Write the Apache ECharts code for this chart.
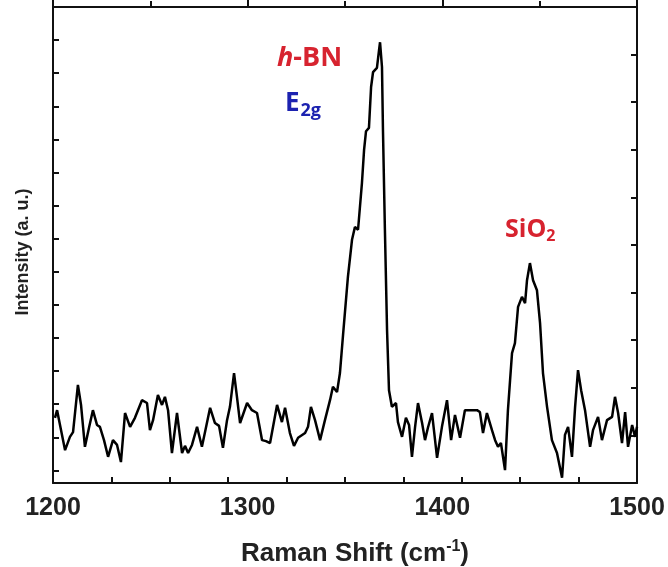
<!DOCTYPE html>
<html>
<head>
<meta charset="utf-8">
<script src="https://cdn.jsdelivr.net/npm/echarts@6/dist/echarts.min.js"></script>
<style>html,body{margin:0;padding:0;background:#fff}#c{width:668px;height:567px}</style>
</head>
<body>
<div id="c"></div>
<script>
const ramanShift = [1201.0,1202.1,1203.6,1206.2,1208.7,1210.3,1212.8,1214.4,1216.4,1218.5,1220.5,1222.6,1224.1,1226.2,1228.3,1230.8,1232.9,1234.9,1237.0,1239.6,1242.1,1245.7,1248.3,1249.8,1251.4,1253.9,1256.0,1257.5,1259.1,1261.1,1263.7,1266.3,1267.8,1269.4,1271.4,1274.0,1276.5,1278.1,1280.7,1283.2,1285.3,1287.3,1289.4,1290.9,1293.0,1294.5,1296.1,1299.7,1302.2,1304.8,1307.4,1309.4,1311.5,1315.1,1317.6,1319.2,1321.7,1323.8,1325.9,1329.5,1331.0,1332.5,1334.6,1337.2,1339.7,1342.3,1343.8,1345.9,1347.4,1349.0,1351.5,1353.6,1355.1,1356.7,1358.7,1359.8,1360.8,1362.3,1363.4,1364.4,1366.4,1367.5,1368.0,1369.0,1369.5,1370.5,1371.6,1372.6,1374.1,1376.2,1377.2,1379.3,1381.3,1382.9,1384.4,1386.0,1387.5,1389.6,1391.1,1392.6,1394.7,1397.3,1399.8,1402.4,1404.5,1406.5,1409.1,1411.6,1414.2,1417.8,1419.3,1420.9,1422.9,1425.5,1427.1,1428.6,1430.1,1432.2,1433.7,1434.8,1435.8,1437.3,1438.9,1440.9,1442.5,1443.5,1445.0,1446.6,1448.6,1450.2,1451.7,1453.8,1456.3,1458.9,1461.5,1463.0,1464.6,1466.6,1468.2,1469.7,1471.3,1473.3,1475.9,1477.4,1480.0,1482.0,1484.6,1487.2,1488.7,1490.3,1492.3,1493.9,1495.4,1497.5,1499.0,1500.0];
const intensity = [1.37,1.53,1.22,0.69,0.97,1.07,2.06,1.64,0.76,1.16,1.53,1.22,1.18,0.90,0.55,0.90,0.80,0.44,1.47,1.18,1.37,1.74,1.68,1.11,1.32,1.85,1.64,1.81,1.53,0.63,1.47,0.63,0.78,0.63,0.80,1.18,0.76,1.07,1.58,1.26,1.20,0.74,1.32,1.60,2.31,1.81,1.26,1.68,1.53,1.47,0.90,0.88,0.84,1.64,1.28,1.58,1.05,0.78,0.95,1.05,1.18,1.60,1.32,0.90,1.32,1.74,2.02,1.91,2.31,3.11,4.33,5.11,5.38,5.32,6.30,7.00,7.39,7.46,8.32,8.63,8.72,9.10,9.26,8.74,7.42,5.32,3.21,1.95,1.60,1.68,1.28,0.97,1.37,1.22,0.55,1.18,1.68,1.26,0.90,1.16,1.47,0.53,1.18,1.74,0.90,1.43,0.95,1.53,1.53,1.53,1.49,1.05,1.47,1.11,0.90,0.76,0.84,0.27,1.53,2.16,2.73,2.94,3.70,3.91,3.78,4.26,4.62,4.26,4.05,3.36,2.31,1.60,0.90,0.63,0.11,1.01,1.18,0.55,1.60,2.37,1.95,1.53,0.76,1.11,1.39,0.90,1.32,1.39,1.81,1.47,0.84,1.49,0.76,1.22,0.97,1.18];
const xTickLabels = ['1200','1300','1400','1500'];
const xTitle = 'Raman Shift (cm';
const yTitle = 'Intensity (a. u.)';

const chart = echarts.init(document.getElementById('c'), null, {renderer: 'canvas'});
const black = '#111';
const lineW = 2;
const F = 'Liberation Sans';
chart.setOption({
  backgroundColor: '#fff',
  animation: false,
  grid: {left: 53, right: 31, top: 7, bottom: 84, containLabel: false, outerBoundsMode: 'none'},
  xAxis: [{
    type: 'value', min: 1200, max: 1500, interval: 100, position: 'bottom',
    axisLine: {show: true, lineStyle: {color: black, width: lineW}},
    axisTick: {show: true, inside: true, length: 7, lineStyle: {color: black, width: 2}},
    minorTick: {show: true, splitNumber: 2, length: 6, lineStyle: {color: black, width: 2}},
    splitLine: {show: false},
    axisLabel: {fontFamily: F, fontWeight: 'bold', fontSize: 25, color: '#222', margin: 13,
      formatter: v => xTickLabels[Math.round((v - 1200) / 100)] || ''},
    name: xTitle + '{sup|-1}{p|)}', nameLocation: 'middle', nameGap: 56,
    nameTextStyle: {fontFamily: F, fontWeight: 'bold', fontSize: 26, color: '#222', padding: [0,0,0,20],
      rich: {sup: {fontFamily: F, fontWeight: 'bold', fontSize: 16, color: '#222', padding: [0,0,14,0]},
             p: {fontFamily: F, fontWeight: 'bold', fontSize: 26, color: '#222'}}}
  }, {
    type: 'value', min: 1200, max: 1500, interval: 30, position: 'top',
    axisLine: {show: true, lineStyle: {color: black, width: lineW}},
    axisTick: {show: true, inside: true, length: -6, lineStyle: {color: black, width: 2}},
    minorTick: {show: false},
    axisLabel: {show: false}, splitLine: {show: false}
  }],
  yAxis: [{
    type: 'value', min: 0, max: 14.38, interval: 1, inverse: true, position: 'left',
    axisLine: {show: true, lineStyle: {color: black, width: lineW}},
    axisTick: {show: true, inside: true, length: 6, lineStyle: {color: black, width: 2}},
    axisLabel: {show: false}, splitLine: {show: false}
  }, {
    type: 'value', min: 0, max: 10, interval: 1, position: 'right',
    axisLine: {show: true, lineStyle: {color: black, width: lineW}},
    axisTick: {show: true, inside: true, length: 6, lineStyle: {color: black, width: 2}},
    axisLabel: {show: false}, splitLine: {show: false}
  }],
  series: [{
    type: 'line', xAxisIndex: 0, yAxisIndex: 1, showSymbol: false, symbol: 'none',
    lineStyle: {color: '#000', width: 2.5}, z: 3,
    data: ramanShift.map((x, i) => [x, intensity[i]])
  }],
  graphic: [
    {type: 'text', x: 23, y: 252, rotation: Math.PI / 2, style: {text: yTitle, fontFamily: F, fontWeight: 'bold',
      fontSize: 18, fill: '#222', align: 'center', verticalAlign: 'middle'}},
    {type: 'text', left: 277, top: 45, style: {text: '{i|h}{b|-BN}',
      rich: {i: {fontFamily: 'Open Sans', fontStyle: 'italic', fontWeight: 'bold', fontSize: 27, fill: '#d7232f'},
             b: {fontFamily: 'Open Sans', fontWeight: 'bold', fontSize: 27, fill: '#d7232f'}}}},
    {type: 'text', left: 285, top: 91, style: {text: '{b|E}{s|2g}',
      rich: {b: {fontFamily: 'Open Sans', fontWeight: 'bold', fontSize: 26, fill: '#1c22b0'},
             s: {fontFamily: 'Open Sans', fontWeight: 'bold', fontSize: 18, fill: '#1c22b0', padding: [14,0,0,1]}}}},
    {type: 'text', left: 505, top: 217, style: {text: '{b|SiO}{s|2}',
      rich: {b: {fontFamily: 'Open Sans', fontWeight: 'bold', fontSize: 25, fill: '#d7232f'},
             s: {fontFamily: 'Open Sans', fontWeight: 'bold', fontSize: 16, fill: '#d7232f', padding: [14,0,0,0]}}}}
  ]
});
</script>
</body>
</html>
